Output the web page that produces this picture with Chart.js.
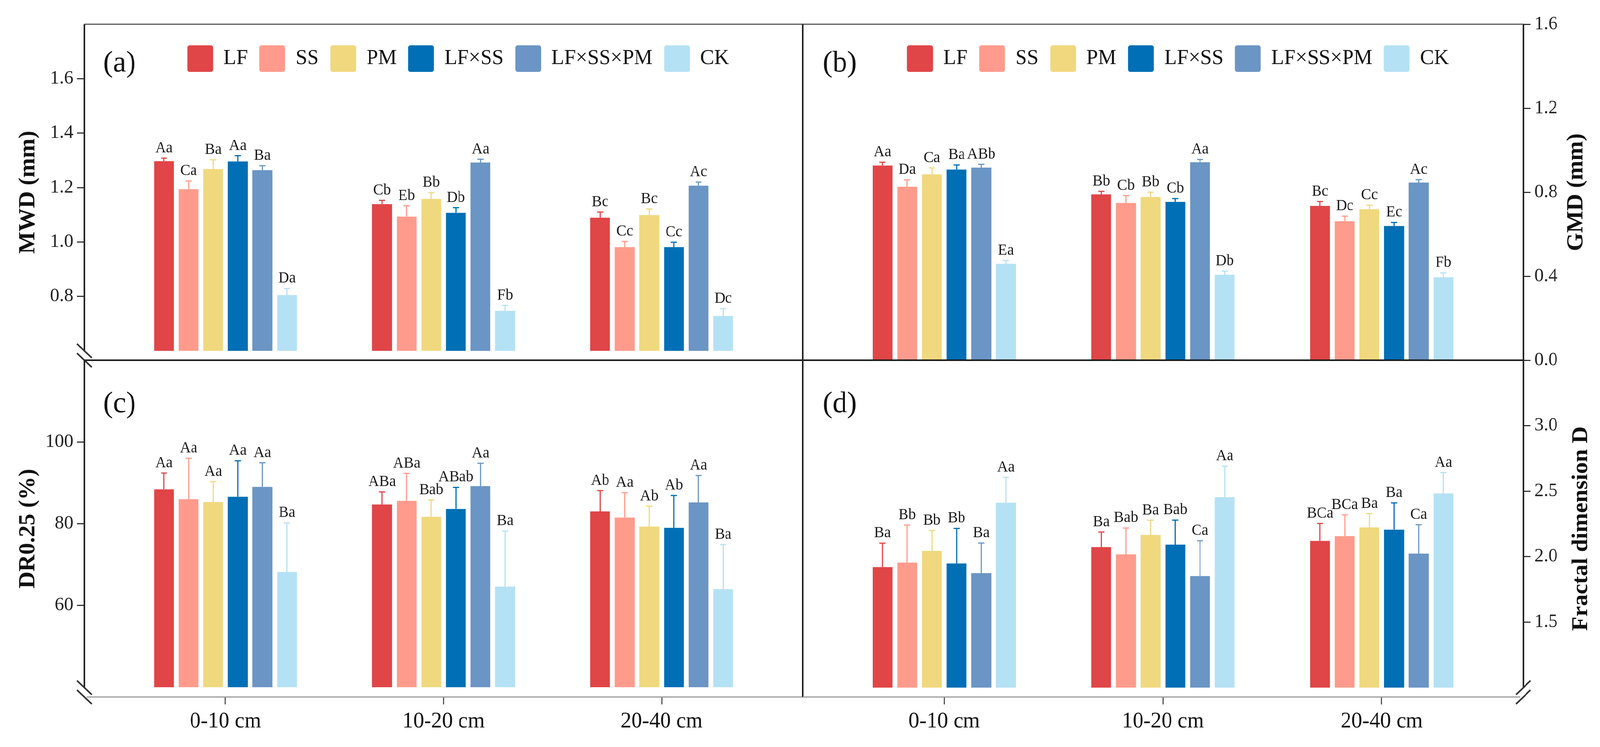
<!DOCTYPE html>
<html>
<head>
<meta charset="utf-8">
<script src="https://cdn.jsdelivr.net/npm/chart.js@4.4.1/dist/chart.umd.min.js"></script>
<style>
  html, body { margin: 0; padding: 0; background: #fff; overflow: hidden; }
  #wrap { position: relative; width: 4150px; height: 1912px; transform-origin: 0 0; }
  #wrap canvas { position: absolute; left: 0; top: 0; }
</style>
</head>
<body>
<div id="wrap">
  <canvas id="chartA" width="4150" height="1912"></canvas>
  <canvas id="chartB" width="4150" height="1912"></canvas>
  <canvas id="chartC" width="4150" height="1912"></canvas>
  <canvas id="chartD" width="4150" height="1912"></canvas>
  <canvas id="legendA" width="4150" height="1912"></canvas>
  <canvas id="legendB" width="4150" height="1912"></canvas>
</div>
<script>
// soil layers and treatments
const depths = ['0-10 cm', '10-20 cm', '20-40 cm']
const treatments = ['LF', 'SS', 'PM', 'LF×SS', 'LF×SS×PM', 'CK']
const colors = ['#E04547', '#FF9B8C', '#F0D87E', '#006FB5', '#6B95C4', '#B5E1F5']

// (a) MWD (mm): one row per treatment, one column per depth
const mwdMean = [
  [1.297, 1.139, 1.089],
  [1.194, 1.093, 0.981],
  [1.268, 1.158, 1.099],
  [1.296, 1.107, 0.981],
  [1.264, 1.292, 1.207],
  [0.805, 0.747, 0.728]
]
const mwdSe = [
  [0.011, 0.014, 0.021],
  [0.030, 0.040, 0.021],
  [0.034, 0.023, 0.022],
  [0.021, 0.019, 0.018],
  [0.016, 0.012, 0.013],
  [0.024, 0.020, 0.027]
]
const mwdSig = [
  ['Aa', 'Cb', 'Bc'],
  ['Ca', 'Eb', 'Cc'],
  ['Ba', 'Bb', 'Bc'],
  ['Aa', 'Db', 'Cc'],
  ['Ba', 'Aa', 'Ac'],
  ['Da', 'Fb', 'Dc']
]
const mwdTicks = [0.8, 1.0, 1.2, 1.4, 1.6]

// (b) GMD (mm)
const gmdMean = [
  [0.927, 0.790, 0.735],
  [0.826, 0.749, 0.662],
  [0.885, 0.777, 0.719],
  [0.908, 0.754, 0.639],
  [0.917, 0.943, 0.846],
  [0.459, 0.407, 0.395]
]
const gmdSe = [
  [0.016, 0.014, 0.021],
  [0.033, 0.035, 0.024],
  [0.031, 0.023, 0.019],
  [0.022, 0.016, 0.017],
  [0.016, 0.013, 0.014],
  [0.016, 0.017, 0.021]
]
const gmdSig = [
  ['Aa', 'Bb', 'Bc'],
  ['Da', 'Cb', 'Dc'],
  ['Ca', 'Bb', 'Cc'],
  ['Ba', 'Cb', 'Ec'],
  ['ABb', 'Aa', 'Ac'],
  ['Ea', 'Db', 'Fb']
]
const gmdTicks = [0.0, 0.4, 0.8, 1.2, 1.6]

// (c) DR0.25 (%)
const drMean = [
  [88.4, 84.7, 83.0],
  [86.0, 85.6, 81.5],
  [85.3, 81.7, 79.3],
  [86.6, 83.6, 79.0],
  [89.0, 89.2, 85.2],
  [68.2, 64.6, 64.0]
]
const drSe = [
  [4.0, 3.1, 5.1],
  [10.0, 6.7, 6.1],
  [5.0, 4.1, 5.0],
  [8.8, 5.3, 7.9],
  [5.9, 5.6, 6.6],
  [12.0, 13.6, 10.9]
]
const drSig = [
  ['Aa', 'ABa', 'Ab'],
  ['Aa', 'ABa', 'Aa'],
  ['Aa', 'Bab', 'Ab'],
  ['Aa', 'ABab', 'Ab'],
  ['Aa', 'Aa', 'Aa'],
  ['Ba', 'Ba', 'Ba']
]
const drTicks = [60, 80, 100]

// (d) fractal dimension D
const fdMean = [
  [1.920, 2.073, 2.120],
  [1.955, 2.017, 2.157],
  [2.044, 2.166, 2.223],
  [1.948, 2.092, 2.206],
  [1.874, 1.852, 2.023],
  [2.412, 2.454, 2.483]
]
const fdSe = [
  [0.183, 0.115, 0.134],
  [0.287, 0.202, 0.162],
  [0.155, 0.112, 0.106],
  [0.268, 0.187, 0.204],
  [0.230, 0.270, 0.221],
  [0.194, 0.237, 0.159]
]
const fdSig = [
  ['Ba', 'Ba', 'BCa'],
  ['Bb', 'Bab', 'BCa'],
  ['Bb', 'Ba', 'Ba'],
  ['Bb', 'Bab', 'Ba'],
  ['Ba', 'Ca', 'Ca'],
  ['Aa', 'Aa', 'Aa']
]
const fdTicks = [1.5, 2.0, 2.5, 3.0]

const W = 4150
const H = 1912
Chart.defaults.font.family = '"Liberation Serif", "Times New Roman", serif'
Chart.defaults.color = '#111'

// the window can come out narrower than the figure: squeeze it to fit
const fitX = Math.min(1, window.innerWidth / W)
if (fitX < 1) document.getElementById('wrap').style.transform = `scale(${fitX}, 1)`

// upper error bar + significance letters
const errorBars = {
  id: 'errorBars',
  afterDatasetsDraw(chart) {
    const { ctx } = chart
    const y = chart.scales.y
    ctx.save()
    chart.data.datasets.forEach((ds, i) => {
      chart.getDatasetMeta(i).data.forEach((bar, j) => {
        const top = y.getPixelForValue(ds.data[j] + ds.se[j])
        ctx.strokeStyle = ds.backgroundColor
        ctx.lineWidth = 3
        ctx.beginPath()
        ctx.moveTo(bar.x, bar.y)
        ctx.lineTo(bar.x, top)
        ctx.moveTo(bar.x - 8, top)
        ctx.lineTo(bar.x + 8, top)
        ctx.stroke()
        ctx.fillStyle = '#1a1a1a'
        ctx.font = '39px "Liberation Serif"'
        ctx.textAlign = 'center'
        ctx.textBaseline = 'alphabetic'
        ctx.fillText(ds.sig[j], bar.x, top - 15)
      })
    })
    ctx.restore()
  }
}

// panel borders, dividers and axis breaks
const frame = {
  id: 'frame',
  afterDraw(chart, args, o) {
    const { ctx } = chart
    const { left: l, right: r, top: t, bottom: b } = chart.chartArea
    const gap = 24
    const seg = (x1, y1, x2, y2, color, width) => {
      ctx.strokeStyle = color
      ctx.lineWidth = width
      ctx.beginPath()
      ctx.moveTo(x1, y1)
      ctx.lineTo(x2, y2)
      ctx.stroke()
    }
    const brk = (x, y, dir) => seg(x - 19, y - 18 * dir, x + 19, y + 18 * dir, '#333', 4)
    ctx.save()
    if (o.top) seg(l, t, r, t, '#555', 3)
    seg(l, t, l, o.breakAt === 'left' ? b - gap : b, '#222', 4)
    seg(r, t, r, o.breakAt === 'right' ? b - gap : b, '#222', 4)
    if (o.bottom === 'divider') {
      seg(l, b, r, b, '#1a1a1a', 4)
    } else {
      seg(o.breakAt === 'left' ? l + 6 : l, b, o.breakAt === 'right' ? r - 8 : r, b, '#999', 3)
    }
    if (o.breakAt === 'left') { brk(l, b - gap, 1); brk(l, b, 1) }
    if (o.breakAt === 'right') { brk(r, b - gap, -1); brk(r, b, -1) }
    ctx.restore()
  }
}

// panel letter and the right-hand axis titles (read bottom to top)
const decor = {
  id: 'decor',
  afterDraw(chart, args, o) {
    const { ctx, chartArea } = chart
    ctx.save()
    ctx.fillStyle = '#111'
    ctx.font = '76px "Liberation Serif"'
    ctx.textAlign = 'left'
    ctx.textBaseline = 'middle'
    ctx.fillText(o.letter, chartArea.left + o.dx, chartArea.top + o.dy)
    if (o.rightTitle) {
      const s = chart.scales.y
      ctx.translate(s.left + o.titleDx, (s.top + s.bottom) / 2)
      ctx.rotate(-Math.PI / 2)
      ctx.font = 'bold 60px "Liberation Serif"'
      ctx.textAlign = 'center'
      ctx.fillText(o.rightTitle, 0, 0)
    }
    ctx.restore()
  }
}

function buildPanel(p) {
  const [left, top, right, bottom] = p.box
  const onLeft = p.side === 'left'
  const datasets = treatments.map((name, i) => ({
    label: name,
    data: p.mean[i],
    se: p.se[i],
    sig: p.sig[i],
    base: p.base,
    backgroundColor: colors[i],
    borderWidth: 0,
    categoryPercentage: 0.677,
    barPercentage: 0.807
  }))
  return new Chart(document.getElementById(p.id), {
    type: 'bar',
    data: { labels: [0, 1, 2], datasets },
    options: {
      responsive: false,
      animation: false,
      devicePixelRatio: 1,
      layout: {
        padding: {
          left: onLeft ? 0 : left,
          right: onLeft ? W - right : 0,
          top: top,
          bottom: p.showX ? 0 : H - bottom
        }
      },
      plugins: {
        legend: { display: false },
        tooltip: { enabled: false },
        frame: p.frame,
        decor: { letter: p.letter, dx: p.dx, dy: p.dy, rightTitle: onLeft ? '' : p.title, titleDx: p.titleDx }
      },
      scales: {
        x: {
          type: 'linear',
          min: -0.647,
          max: 2.647,
          offset: false,
          display: p.showX,
          afterBuildTicks: (s) => { s.ticks = depths.map((d, i) => ({ value: i })) },
          afterFit: (s) => { s.height = p.showX ? H - bottom : 0 },
          border: { display: false },
          grid: { offset: false, drawOnChartArea: false, tickLength: 19, color: '#555', lineWidth: 3 },
          ticks: {
            callback: (v) => depths[v],
            font: { size: 56 },
            color: '#111',
            padding: 11,
            maxRotation: 0,
            autoSkip: false
          }
        },
        y: {
          position: p.side,
          min: p.min,
          max: p.max,
          afterBuildTicks: (s) => { s.ticks = p.ticks.map((v) => ({ value: v })) },
          afterFit: (s) => { s.width = onLeft ? left : W - right },
          border: { display: false },
          grid: { drawOnChartArea: false, tickLength: 19, color: '#333', lineWidth: 3 },
          ticks: {
            callback: p.fmt,
            font: { size: 48 },
            color: '#222',
            padding: 10
          },
          title: {
            display: onLeft,
            text: p.title,
            font: { size: 60, weight: 'bold' },
            color: '#111',
            padding: { top: 37, bottom: 0 }
          }
        }
      }
    },
    plugins: [errorBars, frame, decor]
  })
}

function buildLegend(id, padLeft, padRight) {
  return new Chart(document.getElementById(id), {
    type: 'bar',
    data: {
      labels: [],
      datasets: treatments.map((name, i) => ({ label: name, data: [], backgroundColor: colors[i], borderWidth: 0 }))
    },
    options: {
      responsive: false,
      animation: false,
      devicePixelRatio: 1,
      layout: { padding: { top: 86, left: padLeft, right: padRight } },
      scales: { x: { display: false }, y: { display: false } },
      plugins: {
        tooltip: { enabled: false },
        legend: {
          position: 'top',
          labels: {
            boxWidth: 67,
            boxHeight: 68,
            padding: 30,
            color: '#111',
            font: { size: 54 },
            useBorderRadius: true,
            borderRadius: 6
          }
        }
      }
    }
  })
}

const oneDecimal = (v) => v.toFixed(1)

buildPanel({
  id: 'chartA', letter: '(a)', dx: 49, dy: 101, side: 'left', title: 'MWD (mm)',
  mean: mwdMean, se: mwdSe, sig: mwdSig, ticks: mwdTicks, fmt: oneDecimal,
  min: 0.5656, max: 1.8, base: 0.6,
  box: [219, 62, 2082, 922], showX: false,
  frame: { top: true, bottom: 'divider', breakAt: 'left' }
})
buildPanel({
  id: 'chartB', letter: '(b)', dx: 52, dy: 101, side: 'right', title: 'GMD (mm)', titleDx: 137,
  mean: gmdMean, se: gmdSe, sig: gmdSig, ticks: gmdTicks, fmt: oneDecimal,
  min: 0, max: 1.6, base: 0,
  box: [2082, 62, 3951, 922], showX: false,
  frame: { top: true, bottom: 'divider', breakAt: '' }
})
buildPanel({
  id: 'chartC', letter: '(c)', dx: 49, dy: 113, side: 'left', title: 'DR0.25 (%)',
  mean: drMean, se: drSe, sig: drSig, ticks: drTicks, fmt: (v) => String(v),
  min: 37.61, max: 120, base: 40,
  box: [219, 922, 2082, 1784], showX: true,
  frame: { top: false, bottom: 'axis', breakAt: 'left' }
})
buildPanel({
  id: 'chartD', letter: '(d)', dx: 52, dy: 113, side: 'right', title: 'Fractal dimension D', titleDx: 150,
  mean: fdMean, se: fdSe, sig: fdSig, ticks: fdTicks, fmt: oneDecimal,
  min: 0.9284, max: 3.5, base: 1.0,
  box: [2082, 922, 3951, 1784], showX: true,
  frame: { top: false, bottom: 'axis', breakAt: 'right' }
})

buildLegend('legendA', 295, W - 2082)
buildLegend('legendB', 2160, W - 3951)
</script>
</body>
</html>
